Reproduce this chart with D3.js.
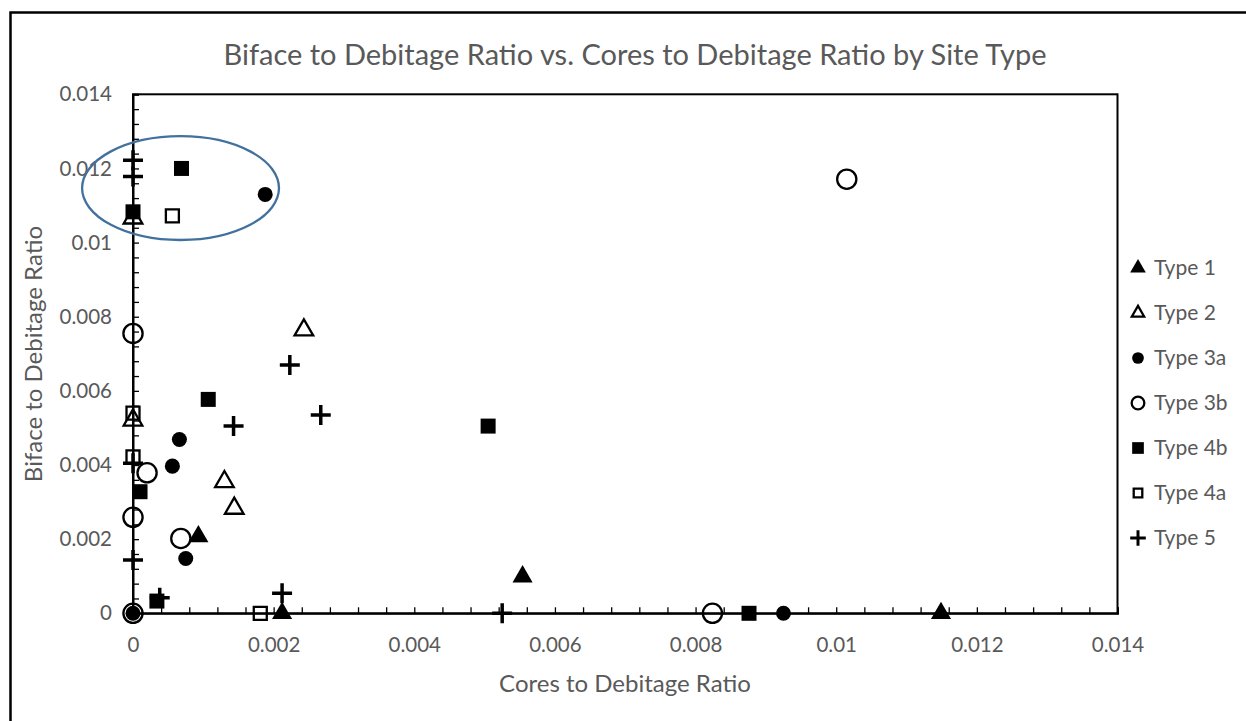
<!DOCTYPE html>
<html>
<head>
<meta charset="utf-8">
<script src="https://cdn.jsdelivr.net/npm/d3@7"></script>
<style>
  body { margin: 0; background: #fff; }
  text { font-family: Lato, "Open Sans", sans-serif; fill: #595959; }
</style>
</head>
<body>
<div id="chart"></div>
<script>
// Site types, in legend order
var typeNames = ["Type 1", "Type 2", "Type 3a", "Type 3b", "Type 4b", "Type 4a", "Type 5"];

// Cores to debitage (x) and biface to debitage (y) for each type
var type1X = [0.00093, 0.00212, 0.00554, 0.01149];
var type1Y = [0.00207, 0.0, 0.00099, 0.0];

var type2X = [0.0, 0.00243, 0.0, 0.0013, 0.00144];
var type2Y = [0.01066, 0.00764, 0.00521, 0.00355, 0.00283];

var type3aX = [0.00188, 0.00066, 0.00056, 0.00075, 0.0, 0.00925];
var type3aY = [0.0113, 0.00469, 0.00397, 0.00148, 0.0, 0.0];

var type3bX = [0.01015, 0.0, 0.0002, 0.0, 0.00068, 0.00824, 0.0];
var type3bY = [0.01171, 0.00755, 0.00379, 0.00259, 0.00202, 0.0, 0.0];

var type4bX = [0.00069, 0.0, 0.00107, 0.00505, 0.0001, 0.00034, 0.00876];
var type4bY = [0.012, 0.01083, 0.00577, 0.00505, 0.00328, 0.00033, 0.0];

var type4aX = [0.00056, 0.0, 0.0, 0.00181];
var type4aY = [0.01072, 0.0054, 0.00422, 0.0];

var type5X = [0.0, 0.0, 0.00223, 0.00267, 0.00143, 0.0, 0.0, 0.00038, 0.00212, 0.00525];
var type5Y = [0.01222, 0.01178, 0.0067, 0.00535, 0.00505, 0.00405, 0.00144, 0.00042, 0.00054, 0.0];

// Axis ticks
var xTickLabels = [0, 0.002, 0.004, 0.006, 0.008, 0.01, 0.012, 0.014];
var yTickLabels = [0, 0.002, 0.004, 0.006, 0.008, 0.01, 0.012, 0.014];

// SVG area
var svgWidth = 1246;
var svgHeight = 721;

var chartMargin = { top: 94.3, right: 128.5, bottom: 107.7, left: 133 };
var chartWidth = svgWidth - chartMargin.left - chartMargin.right;
var chartHeight = svgHeight - chartMargin.top - chartMargin.bottom;

var svg = d3.select("#chart")
  .append("svg")
    .attr("width", svgWidth)
    .attr("height", svgHeight);

// outer frame (runs off the right and bottom edge)
svg.append("rect")
  .attr("x", 10.5).attr("y", 12.5)
  .attr("width", 1300).attr("height", 800)
  .attr("fill", "none").attr("stroke", "#000").attr("stroke-width", 2.5);

var g = svg.append("g")
  .attr("transform", "translate(" + chartMargin.left + "," + chartMargin.top + ")");

var x = d3.scaleLinear().domain([0, 0.014]).range([0, chartWidth]);
var y = d3.scaleLinear().domain([0, 0.014]).range([chartHeight, 0]);

// minor ticks every 0.0004, pointing in
var minorTicks = d3.range(0, 0.01401, 0.0004);

// plot box
g.append("rect")
  .attr("width", chartWidth).attr("height", chartHeight)
  .attr("fill", "none").attr("stroke", "#000").attr("stroke-width", 2);

var xAxis = g.append("g")
  .attr("transform", "translate(0," + chartHeight + ")")
  .call(d3.axisBottom(x).tickValues(minorTicks).tickSize(-6).tickFormat(""));
var yAxis = g.append("g")
  .call(d3.axisLeft(y).tickValues(minorTicks).tickSize(-6).tickFormat(""));
[xAxis, yAxis].forEach(function(a) {
  a.select(".domain").attr("stroke", "#000").attr("stroke-width", 2);
  a.selectAll(".tick line").attr("stroke", "#000").attr("stroke-width", 1.3);
});

// tick labels
var fmt = function(d) { return d === 0 ? "0" : String(+d.toFixed(3)); };
g.append("g")
  .attr("transform", "translate(0," + chartHeight + ")")
  .call(d3.axisBottom(x).tickValues(xTickLabels).tickSize(0).tickPadding(24).tickFormat(fmt))
  .call(function(a) { a.select(".domain").remove(); })
  .selectAll("text")
    .attr("font-size", 20.5).attr("fill", "#595959")
    .style("font-family", "Lato, sans-serif");
g.append("g")
  .call(d3.axisLeft(y).tickValues(yTickLabels).tickSize(0).tickPadding(21).tickFormat(fmt))
  .call(function(a) { a.select(".domain").remove(); })
  .selectAll("text")
    .attr("font-size", 20.5).attr("fill", "#595959")
    .style("font-family", "Lato, sans-serif");

// annotation ellipse round the high biface group
g.append("ellipse")
  .attr("cx", x(0.000676)).attr("cy", y(0.01147))
  .attr("rx", x(0.0014) - x(0)).attr("ry", y(0) - y(0.0014))
  .attr("fill", "none").attr("stroke", "#41719c").attr("stroke-width", 2.3);

// series
var series = [
  { name: typeNames[0], xs: type1X, ys: type1Y, shape: "triangle", filled: true },
  { name: typeNames[1], xs: type2X, ys: type2Y, shape: "triangle", filled: false },
  { name: typeNames[2], xs: type3aX, ys: type3aY, shape: "circle", filled: true },
  { name: typeNames[3], xs: type3bX, ys: type3bY, shape: "circle", filled: false },
  { name: typeNames[4], xs: type4bX, ys: type4bY, shape: "square", filled: true },
  { name: typeNames[5], xs: type4aX, ys: type4aY, shape: "square", filled: false },
  { name: typeNames[6], xs: type5X, ys: type5Y, shape: "plus", filled: true }
];

function markerPath(s, scale) {
  if (s.shape === "plus") {
    var h = 10 * scale;
    return "M" + (-h) + ",0H" + h + "M0," + (-h) + "V" + h;
  }
  var sizes = {
    triangle: s.filled ? 175 : 150,
    circle: s.filled ? 177 : 290,
    square: s.filled ? 225 : 169
  };
  var type = { triangle: d3.symbolTriangle, circle: d3.symbolCircle, square: d3.symbolSquare }[s.shape];
  return d3.symbol().type(type).size(sizes[s.shape] * scale * scale)();
}

function styleMarker(sel, s, scale) {
  if (s.shape === "plus") {
    sel.attr("fill", "none").attr("stroke", "#000").attr("stroke-width", 3.5 * scale);
  } else if (s.filled) {
    sel.attr("fill", "#000").attr("stroke", "none");
  } else {
    sel.attr("fill", "none").attr("stroke", "#000").attr("stroke-width", 2.3 * Math.max(scale, 1));
  }
}

series.forEach(function(s) {
  var pts = s.xs.map(function(v, i) { return [v, s.ys[i]]; });
  g.append("g")
    .selectAll("path")
    .data(pts)
    .enter()
    .append("path")
      .attr("d", markerPath(s, 1))
      .attr("transform", function(d) { return "translate(" + x(d[0]) + "," + y(d[1]) + ")"; })
      .call(styleMarker, s, 1);
});

// legend
var legend = svg.append("g").attr("transform", "translate(1138,268)");
series.forEach(function(s, i) {
  var row = legend.append("g").attr("transform", "translate(0," + (i * 45) + ")");
  row.append("path")
    .attr("d", markerPath(s, s.filled ? 0.78 : 0.66))
    .call(styleMarker, s, s.shape === "plus" ? 0.85 : 1);
  row.append("text")
    .attr("x", 16).attr("y", 0).attr("dy", "0.35em")
    .attr("font-size", 21)
    .text(s.name);
});

// titles
svg.append("text")
  .attr("x", 635).attr("y", 65)
  .attr("text-anchor", "middle")
  .attr("font-size", 29)
  .text("Biface to Debitage Ratio vs. Cores to Debitage Ratio by Site Type");

svg.append("text")
  .attr("x", 625).attr("y", 692)
  .attr("text-anchor", "middle")
  .attr("font-size", 24)
  .text("Cores to Debitage Ratio");

svg.append("text")
  .attr("transform", "translate(42,354) rotate(-90)")
  .attr("text-anchor", "middle")
  .attr("font-size", 24)
  .text("Biface to Debitage Ratio");
</script>
</body>
</html>
